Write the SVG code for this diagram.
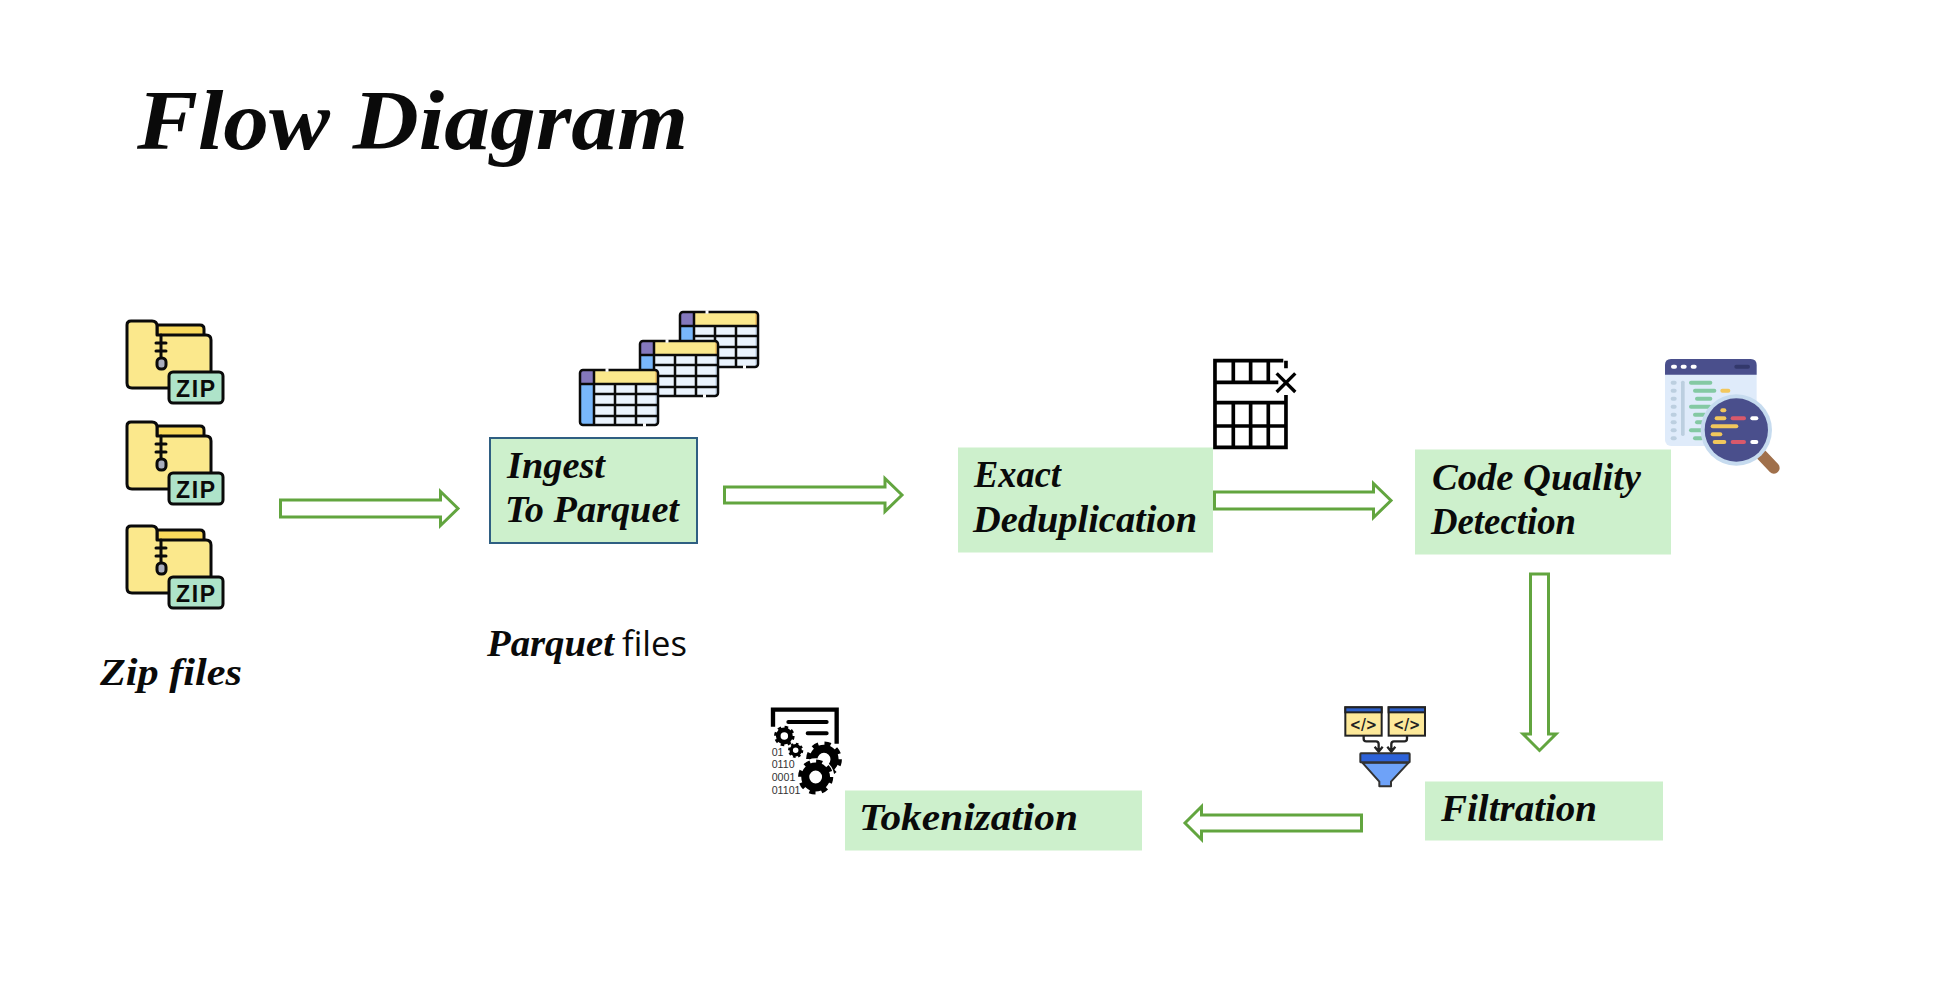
<svg xmlns="http://www.w3.org/2000/svg" xmlns:xlink="http://www.w3.org/1999/xlink" width="1940" height="1008" viewBox="0 0 1940 1008">
<style>
.hand{font-family:"Liberation Serif","Times New Roman",serif;font-style:italic;font-weight:700;fill:#0a0a0a}
.lab{font-size:38px}
.box{fill:#cdf0cc}
.arrow{fill:#fff;stroke:#62a53f;stroke-width:3}
.ol{stroke:#0a0a0a;fill:none;stroke-linecap:round;stroke-linejoin:round}
.bin{font-family:"Liberation Sans",Arial,sans-serif;font-size:32px;fill:#333}
.code{font-family:"DejaVu Sans",sans-serif;font-weight:700;font-size:50px;fill:#222;text-anchor:middle}
.gt{fill:none;stroke:#000}
</style>
<defs>
<g id="folder">
<path d="M31 5H74Q78 5 78 9V16H31Z" fill="#f9d95c" stroke="#0a0a0a" stroke-width="3"/>
<path d="M5 1H26Q31 1 31 6V15H80Q85 15 85 20V60Q85 68 77 68H6Q1 68 1 63V5Q1 1 5 1Z" fill="#fbe88c" stroke="#0a0a0a" stroke-width="3" stroke-linejoin="round"/>
<path class="ol" stroke-width="3" d="M35 15V38M30 23H40M30 31H40"/>
<rect x="31" y="38" width="9" height="11" rx="4" fill="#a9adbd" stroke="#0a0a0a" stroke-width="3"/>
<rect x="43" y="52" width="54" height="31" rx="4" fill="#aee3c9" stroke="#0a0a0a" stroke-width="3"/>
<text x="50" y="77" font-family="Liberation Sans,Arial,sans-serif" font-weight="700" font-size="23" textLength="39" lengthAdjust="spacing" fill="#0a0a0a">ZIP</text>
</g>
<g id="table">
<rect x="1" y="1" width="78" height="55" rx="3" fill="#eaf3fd"/>
<rect x="1" y="1" width="14" height="14" fill="#8478bd"/>
<rect x="15" y="1" width="64" height="14" fill="#fbe88c"/>
<rect x="76" y="1" width="3" height="14" fill="#f3c76a"/>
<rect x="1" y="15" width="14" height="41" fill="#79b7fb"/>
<rect x="76" y="15" width="3" height="41" fill="#cfdff2"/>
<path d="M15 1V56M36 15V56M57 15V56M1 15H79M15 25H79M15 36H79M15 47H79" stroke="#0a0a0a" stroke-width="2.5" fill="none"/>
<rect x="1" y="1" width="78" height="55" rx="3" fill="none" stroke="#0a0a0a" stroke-width="2.5"/>
<path d="M26.5 1H29.5M64 56H67" stroke="#fff" stroke-width="3.5"/>
</g>
<g id="gear">
<circle r="26" class="gt" stroke-width="20"/>
<circle r="38" class="gt" stroke-width="12" stroke-dasharray="15 14.85"/>
</g>
</defs>

<g id="title"><text class="hand" x="137" y="149" font-size="84" textLength="551" lengthAdjust="spacingAndGlyphs">Flow Diagram</text></g>

<g id="connectors" transform="translate(0 .5)">
<path class="arrow" d="M280.5 499.5H440.5V491L458 508L440.5 525V516.5H280.5Z"/>
<path class="arrow" d="M724.5 486.5H885V478L902 494.5L885 511V502.5H724.5Z"/>
<path class="arrow" d="M1214.5 491.5H1373.5V483L1391 500L1373.5 517V508.5H1214.5Z"/>
<path class="arrow" d="M1530.5 573.5H1548.5V733.5H1556L1539.5 750L1523 733.5H1530.5Z"/>
<path class="arrow" d="M1361.5 814.5H1201.5V806L1185 822.5L1201.5 839V830.5H1361.5Z"/>
</g>

<g id="zip-files">
<use href="#folder" x="126" y="320"/>
<use href="#folder" x="126" y="421"/>
<use href="#folder" x="126" y="525"/>
<text class="hand lab" x="100" y="685" textLength="142" lengthAdjust="spacingAndGlyphs">Zip files</text>
</g>

<g id="parquet-files">
<use href="#table" x="679" y="311"/>
<use href="#table" x="639" y="340"/>
<use href="#table" x="579" y="369"/>
<text y="656" font-size="38"><tspan class="hand" x="487" textLength="127" lengthAdjust="spacingAndGlyphs">Parquet</tspan> <tspan x="622" font-family="Open Sans,sans-serif" font-size="34" fill="#0a0a0a" textLength="65" lengthAdjust="spacingAndGlyphs">files</tspan></text>
</g>

<g id="ingest">
<rect class="box" x="490" y="438" width="207" height="105" stroke="#2f5f82" stroke-width="2"/>
<text class="hand lab" x="507" y="478" textLength="98" lengthAdjust="spacingAndGlyphs">Ingest</text>
<text class="hand lab" x="505" y="522" textLength="174" lengthAdjust="spacingAndGlyphs">To Parquet</text>
</g>

<g id="dedup">
<rect class="box" x="958" y="447.500" width="255" height="105"/>
<text class="hand lab" x="974" y="487" textLength="87" lengthAdjust="spacingAndGlyphs">Exact</text>
<text class="hand lab" x="973" y="532" textLength="224" lengthAdjust="spacingAndGlyphs">Deduplication</text>
<g transform="translate(950 340) scale(.3333)">
<path d="M1000 62H795V322H1008V165M1008 62V85M795 127H985M795 188H1008M795 258H1008M850 62V127M902 62V127M955 62V127M850 188V322M902 188V322M955 188V322" fill="none" stroke="#000" stroke-width="11"/>
<path d="M980 100L1036 156M1036 100L980 156" fill="none" stroke="#000" stroke-width="10"/>
</g>
</g>

<g id="quality">
<rect class="box" x="1415" y="449.500" width="256" height="105"/>
<text class="hand lab" x="1432" y="490" textLength="209" lengthAdjust="spacingAndGlyphs">Code Quality</text>
<text class="hand lab" x="1431" y="534" textLength="145" lengthAdjust="spacingAndGlyphs">Detection</text>
<g transform="translate(1640 340) scale(.3333)">
<rect x="75" y="57" width="275" height="261" rx="18" fill="#dfebfa"/>
<path d="M75 104V75Q75 57 93 57H332Q350 57 350 75V104Z" fill="#4a4f8c"/>
<g fill="#fff"><rect x="93" y="74" width="18" height="12" rx="6"/><rect x="122" y="74" width="18" height="12" rx="6"/><rect x="152" y="74" width="18" height="12" rx="6"/></g>
<rect x="283" y="74" width="47" height="12" rx="6" fill="#33386b"/>
<g fill="#bccfe0"><rect x="92" y="122" width="18" height="12" rx="6"/><rect x="92" y="146" width="18" height="12" rx="6"/><rect x="92" y="170" width="18" height="12" rx="6"/><rect x="92" y="194" width="18" height="12" rx="6"/><rect x="92" y="218" width="18" height="12" rx="6"/><rect x="92" y="241" width="18" height="12" rx="6"/><rect x="92" y="265" width="18" height="12" rx="6"/><rect x="92" y="289" width="18" height="12" rx="6"/><rect x="123" y="122" width="11" height="166" rx="5"/></g>
<g fill="#84c9a3"><rect x="147" y="122" width="70" height="12" rx="6"/><rect x="159" y="146" width="70" height="12" rx="6"/><rect x="165" y="170" width="52" height="12" rx="6"/><rect x="147" y="194" width="68" height="12" rx="6"/><rect x="159" y="218" width="41" height="12" rx="6"/><rect x="165" y="241" width="35" height="12" rx="6"/><rect x="147" y="265" width="43" height="12" rx="6"/><rect x="159" y="289" width="31" height="12" rx="6"/></g>
<rect x="241" y="146" width="30" height="12" rx="6" fill="#f2c75c"/>
<path d="M365 345L402 384" stroke="#a0704b" stroke-width="34" stroke-linecap="round"/>
<circle cx="289" cy="270" r="107" fill="#c6dbef"/>
<circle cx="289" cy="270" r="95" fill="#4a4f8c"/>
<g fill="#f2c75c"><rect x="241" y="205" width="18" height="12" rx="6"/><rect x="224" y="229" width="35" height="12" rx="6"/><rect x="212" y="253" width="83" height="12" rx="6"/><rect x="212" y="277" width="35" height="12" rx="6"/><rect x="218" y="300" width="41" height="12" rx="6"/></g>
<g fill="#d9596b"><rect x="272" y="229" width="46" height="12" rx="6"/><rect x="272" y="300" width="46" height="12" rx="6"/></g>
<g fill="#fff"><rect x="331" y="229" width="24" height="12" rx="6"/><rect x="331" y="300" width="24" height="12" rx="6"/></g>
</g>
</g>

<g id="filtration">
<rect class="box" x="1425" y="781.500" width="238" height="59"/>
<text class="hand lab" x="1441" y="821" textLength="156" lengthAdjust="spacingAndGlyphs">Filtration</text>
<g transform="translate(1320 690) scale(.3333)">
<rect x="76" y="52" width="109" height="85" fill="#fde99a" stroke="#222" stroke-width="6"/>
<rect x="76" y="52" width="109" height="15" fill="#2d5fc9" stroke="#222" stroke-width="6"/>
<rect x="206" y="52" width="109" height="85" fill="#fde99a" stroke="#222" stroke-width="6"/>
<rect x="206" y="52" width="109" height="15" fill="#2d5fc9" stroke="#222" stroke-width="6"/>
<text class="code" x="130" y="121" textLength="82" lengthAdjust="spacingAndGlyphs">&lt;/&gt;</text>
<text class="code" x="260" y="121" textLength="82" lengthAdjust="spacingAndGlyphs">&lt;/&gt;</text>
<path d="M131 138V146Q131 154 139 154H168Q176 154 176 162V184M164 170L176 185L188 170M261 138V146Q261 154 253 154H222Q214 154 214 162V184M202 170L214 185L226 170" fill="none" stroke="#222" stroke-width="7"/>
<path d="M127 218L178 275V289H213V275L266 218Z" fill="#6ea2f8" stroke="#333" stroke-width="6" stroke-linejoin="round"/>
<rect x="121" y="190" width="148" height="27" rx="2" fill="#2d62d8" stroke="#333" stroke-width="6"/>
</g>
</g>

<g id="tokenization">
<rect class="box" x="845" y="790.500" width="297" height="60"/>
<text class="hand lab" x="859" y="830" textLength="219" lengthAdjust="spacingAndGlyphs">Tokenization</text>
<g transform="translate(750 691) scale(.3333)">
<path d="M69 107V56H260V158" fill="none" stroke="#000" stroke-width="13"/>
<path d="M115 93H230M173 127H230" fill="none" stroke="#000" stroke-width="12" stroke-linecap="round"/>
<use href="#gear" transform="translate(103 135) scale(.7)"/>
<use href="#gear" transform="translate(137 178) scale(.52)"/>
<use href="#gear" transform="translate(222 205) scale(1.22)"/>
<circle cx="197" cy="258" r="56" fill="#fff"/>
<use href="#gear" transform="translate(197 258) scale(1.2)"/>
<text class="bin" x="65" y="194">01</text>
<text class="bin" x="65" y="232">0110</text>
<text class="bin" x="65" y="269">0001</text>
<text class="bin" x="65" y="308">01101</text>
</g>
</g>
</svg>
